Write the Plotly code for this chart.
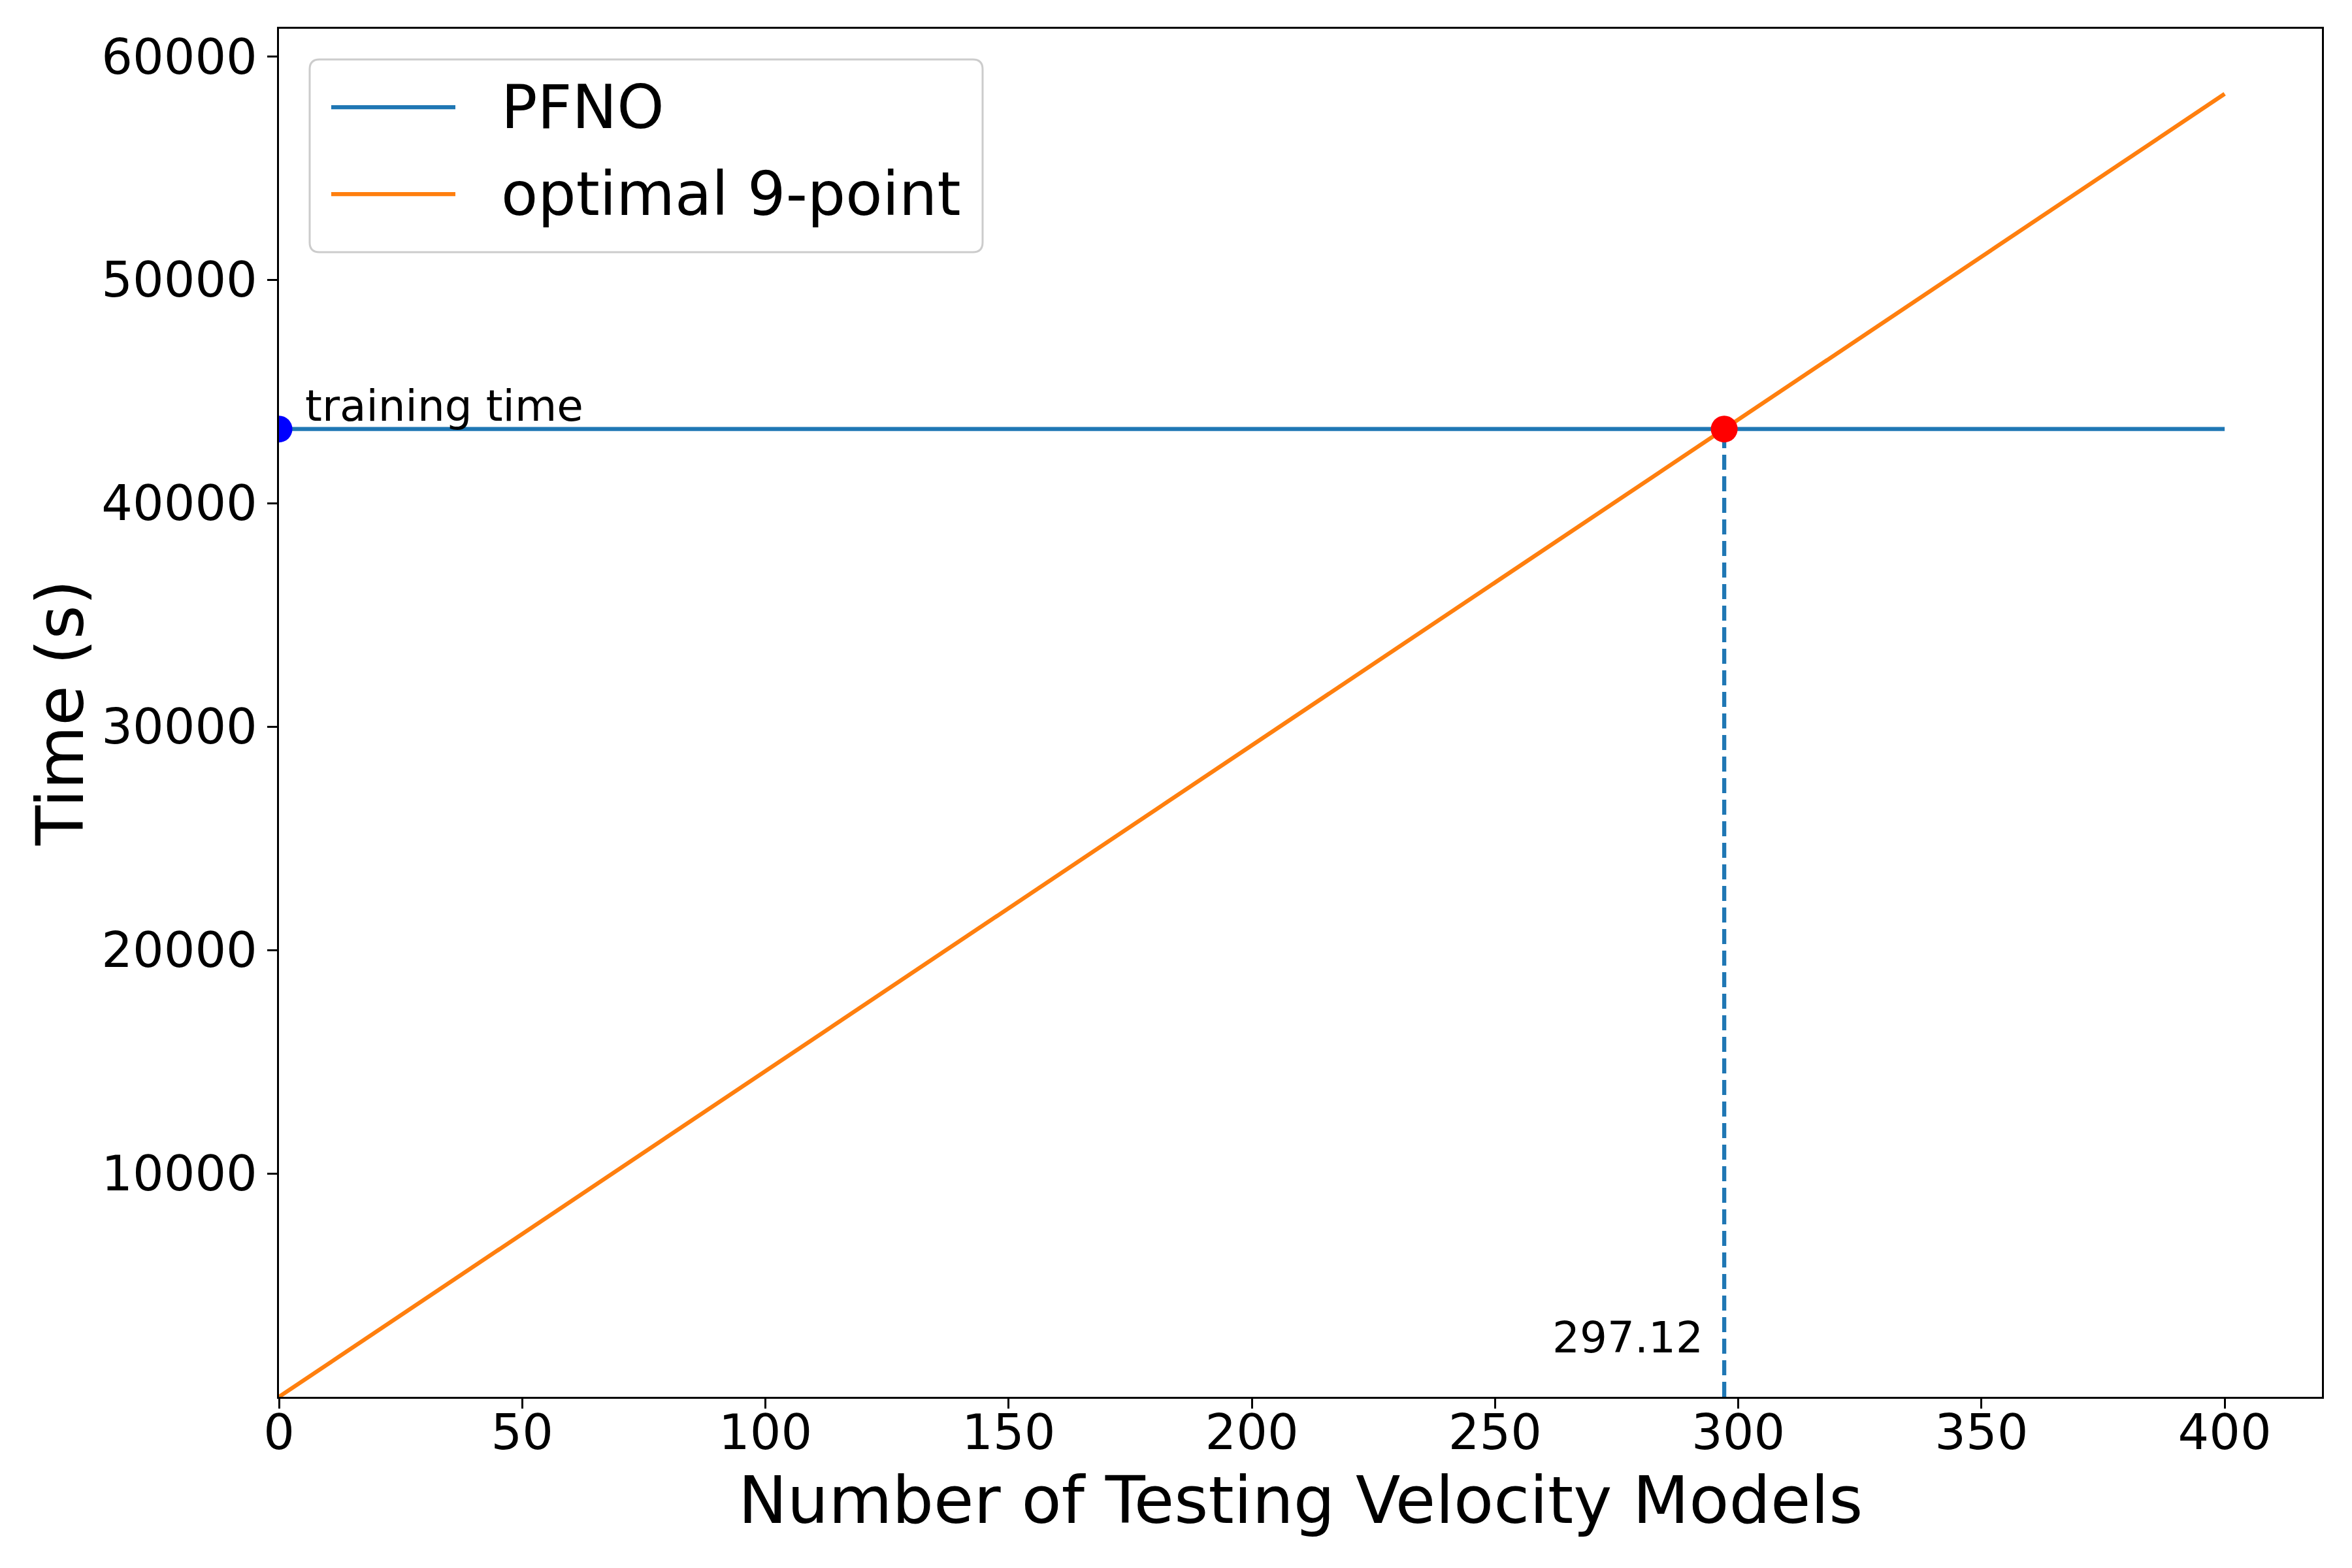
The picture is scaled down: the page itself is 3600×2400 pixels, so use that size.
import plotly.graph_objects as go

# ---- data ----
n_models = [0, 400]
pfno_time = [43320, 43320]
fd_time = [0, 58320]
break_even_x = 297.12
training_time = 43320
x_ticks = [0, 50, 100, 150, 200, 250, 300, 350, 400]
y_ticks = [10000, 20000, 30000, 40000, 50000, 60000]
series_names = ["PFNO", "optimal 9-point"]
series_colors = ["#1f77b4", "#ff7f0e"]

BODY = 8  # default browser body margin
W, H = 3600 - BODY, 2400 - BODY
L, R, T, B = 427, 3554, 44, 2138  # plot area in page pixels
FONT = "DejaVu Sans"

def px(xp):
    return (xp - L) / (R - L)

def py(yp):
    return (B - yp) / (B - T)

fig = go.Figure()

fig.add_trace(go.Scatter(x=n_models, y=pfno_time, mode="lines", name=series_names[0],
                         line=dict(color=series_colors[0], width=6.25), showlegend=False))
fig.add_trace(go.Scatter(x=n_models, y=fd_time, mode="lines", name=series_names[1],
                         line=dict(color=series_colors[1], width=6.25), showlegend=False))
# dashed vertical line at break-even
fig.add_trace(go.Scatter(x=[break_even_x, break_even_x], y=[0, training_time], mode="lines",
                         line=dict(color=series_colors[0], width=6.25, dash="23px,10px"),
                         showlegend=False))
# markers
fig.add_trace(go.Scatter(x=[0], y=[training_time], mode="markers",
                         marker=dict(color="blue", size=41), showlegend=False))
fig.add_trace(go.Scatter(x=[break_even_x], y=[training_time], mode="markers",
                         marker=dict(color="red", size=41), showlegend=False))

annotations = [
    dict(x=0, y=training_time, xref="x", yref="y", text="training time", showarrow=False,
         xanchor="left", yanchor="bottom", xshift=38, yshift=-5,
         font=dict(family=FONT, size=66, color="black")),
    dict(x=break_even_x, y=2660, xref="x", yref="y", text=f"{break_even_x:.2f}", showarrow=False,
         xanchor="right", yanchor="middle", xshift=-30,
         font=dict(family=FONT, size=66, color="black")),
    # axis titles
    dict(x=0.5, y=py(2296), xref="paper", yref="paper", text="Number of Testing Velocity Models",
         showarrow=False, xanchor="center", yanchor="middle",
         font=dict(family=FONT, size=100, color="black")),
    dict(x=px(92), y=0.5, xref="paper", yref="paper", text="Time (s)", textangle=-90,
         showarrow=False, xanchor="center", yanchor="middle",
         font=dict(family=FONT, size=100, color="black")),
]

# custom legend
lx0, lx1 = px(474), px(1504)
ly0, ly1 = py(386), py(91)
rx, ry = 15 / (R - L), 15 / (B - T)
path = (f"M {lx0+rx},{ly1} L {lx1-rx},{ly1} Q {lx1},{ly1} {lx1},{ly1-ry} "
        f"L {lx1},{ly0+ry} Q {lx1},{ly0} {lx1-rx},{ly0} "
        f"L {lx0+rx},{ly0} Q {lx0},{ly0} {lx0},{ly0+ry} "
        f"L {lx0},{ly1-ry} Q {lx0},{ly1} {lx0+rx},{ly1} Z")
shapes = [dict(type="path", path=path, xref="paper", yref="paper",
               line=dict(color="#cccccc", width=3), fillcolor="rgba(255,255,255,0.8)",
               layer="above")]
for name, color, yp in zip(series_names, series_colors, [164, 297]):
    shapes.append(dict(type="line", xref="paper", yref="paper", x0=px(507), x1=px(697),
                       y0=py(yp), y1=py(yp), line=dict(color=color, width=6.25), layer="above"))
    annotations.append(dict(x=px(765), y=py(yp), xref="paper", yref="paper", text=name,
                            showarrow=False, xanchor="left", yanchor="middle",
                            font=dict(family=FONT, size=92, color="black")))

axis_common = dict(showgrid=False, zeroline=False, showline=True, linecolor="black", linewidth=3.3,
                   mirror=True, ticks="outside", ticklen=15, tickwidth=3.3, tickcolor="black",
                   tickfont=dict(family=FONT, size=75, color="black"))

fig.update_layout(
    width=W, height=H,
    margin=dict(l=L - BODY, r=3600 - R, t=T - BODY, b=2400 - B),
    paper_bgcolor="white", plot_bgcolor="white",
    xaxis=dict(range=[0, 420], tickvals=x_ticks, ticktext=[str(v) for v in x_ticks],
               ticklabelstandoff=-28, **axis_common),
    yaxis=dict(range=[0, 61236], tickvals=y_ticks, ticktext=[str(v) for v in y_ticks], **axis_common),
    annotations=annotations,
    shapes=shapes,
    showlegend=False,
)

fig.write_html("out.html")
